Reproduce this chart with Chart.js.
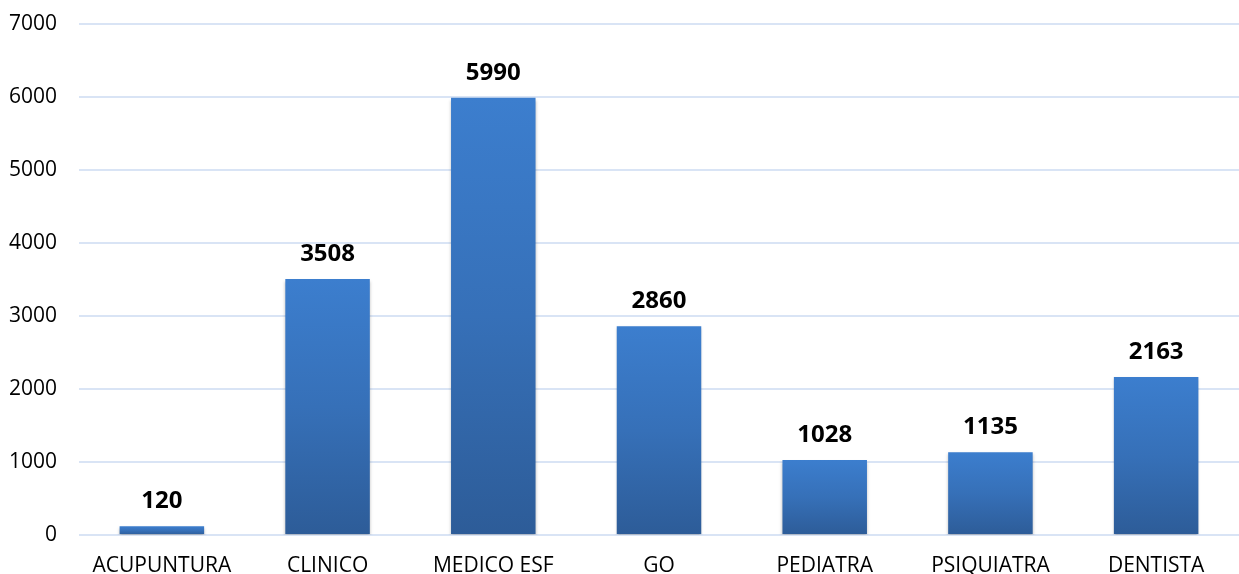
<!DOCTYPE html>
<html>
<head>
<meta charset="utf-8">
<script src="https://cdn.jsdelivr.net/npm/chart.js@4/dist/chart.umd.min.js"></script>
<style>
  html, body { margin: 0; padding: 0; background: #ffffff; }
  #wrap { width: 1239px; height: 574px; position: relative; }
</style>
</head>
<body>
<div id="wrap"><canvas id="c"></canvas></div>
<script>
const categories = ["ACUPUNTURA", "CLINICO", "MEDICO ESF", "GO", "PEDIATRA", "PSIQUIATRA", "DENTISTA"];
const values = [120, 3508, 5990, 2860, 1028, 1135, 2163];
const yTicks = [0, 1000, 2000, 3000, 4000, 5000, 6000, 7000];

const FONT = "'Open Sans', 'Liberation Sans', sans-serif";

function barGradient(context) {
  const chart = context.chart;
  const area = chart.chartArea;
  if (!area || context.type !== 'data') return '#3A78C8';
  const y = chart.scales.y;
  const top = y.getPixelForValue(context.parsed.y);
  const base = y.getPixelForValue(0);
  const g = chart.ctx.createLinearGradient(0, top, 0, base);
  g.addColorStop(0, '#3C7ECE');
  g.addColorStop(0.5, '#3670B8');
  g.addColorStop(1, '#2D5C98');
  return g;
}

const labelPlugin = {
  id: 'valueLabels',
  afterDatasetsDraw(chart) {
    const ctx = chart.ctx;
    const meta = chart.getDatasetMeta(0);
    ctx.save();
    ctx.font = "bold 24px " + FONT;
    ctx.fillStyle = '#000000';
    ctx.textAlign = 'center';
    ctx.textBaseline = 'alphabetic';
    meta.data.forEach((bar, i) => {
      ctx.fillText(String(values[i]), bar.x, bar.y - 18);
    });
    ctx.restore();
  }
};

const shadowPlugin = {
  id: 'barShadow',
  beforeDatasetsDraw(chart) {
    const ctx = chart.ctx;
    ctx.save();
    ctx.shadowColor = 'rgba(0,0,0,0.25)';
    ctx.shadowBlur = 3;
    ctx.shadowOffsetX = 0;
    ctx.shadowOffsetY = 2;
  },
  afterDatasetsDraw(chart) {
    chart.ctx.restore();
  }
};

new Chart(document.getElementById('c'), {
  type: 'bar',
  data: {
    labels: categories,
    datasets: [{
      data: values,
      backgroundColor: barGradient,
      borderWidth: 0,
      barPercentage: 0.51,
      categoryPercentage: 1.0
    }]
  },
  options: {
    responsive: true,
    maintainAspectRatio: false,
    animation: false,
    events: [],
    layout: { padding: { top: 24, right: 0, bottom: 0, left: 0 } },
    plugins: { legend: { display: false }, tooltip: { enabled: false } },
    scales: {
      x: {
        grid: { display: false, drawTicks: false },
        border: { display: false },
        ticks: { color: '#000000', font: { family: FONT, size: 21 }, padding: 18, maxRotation: 0, autoSkip: false },
        afterFit(scale) { scale.height = 39; scale.paddingLeft = 0; scale.paddingRight = 0; }
      },
      y: {
        min: 0, max: 7000,
        afterBuildTicks(scale) { scale.ticks = yTicks.map(v => ({ value: v })); },
        grid: { color: '#D9E4F5', lineWidth: 2, drawTicks: false },
        border: { display: false },
        ticks: { color: '#000000', font: { family: FONT, size: 21 }, padding: 22, callback: (v) => String(v) },
        afterFit(scale) { scale.width = 79; scale.paddingTop = 0; scale.paddingBottom = 0; }
      }
    }
  },
  plugins: [shadowPlugin, labelPlugin]
});
</script>
</body>
</html>
